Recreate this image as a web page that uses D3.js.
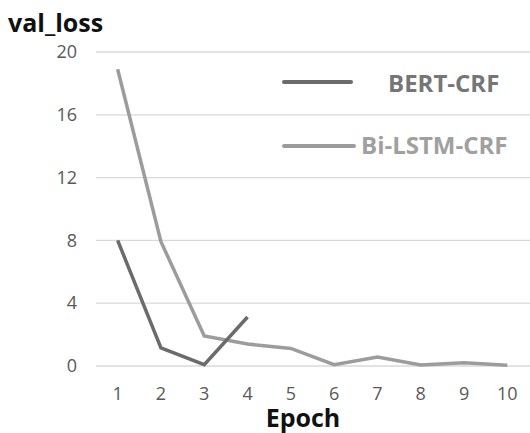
<!DOCTYPE html>
<html>
<head>
<meta charset="utf-8">
<script src="https://cdn.jsdelivr.net/npm/d3@7"></script>
<style>
    body { margin: 0; background: #fff; }
    svg { display: block; font-family: "Open Sans", "Noto Sans", sans-serif; }
</style>
</head>
<body>
<svg id="chart" width="530" height="433"></svg>
<script>
    var epochs = [1, 2, 3, 4, 5, 6, 7, 8, 9, 10];
    var bertCrf = [8.0, 1.15, 0.08, 3.12];
    var biLstmCrf = [18.9, 7.92, 1.91, 1.4, 1.12, 0.08, 0.57, 0.06, 0.2, 0.04];
    var yTicks = [0, 4, 8, 12, 16, 20];

    var series = [
        { name: 'BERT-CRF', values: bertCrf, color: '#6b6b6b', text: '#767676' },
        { name: 'Bi-LSTM-CRF', values: biLstmCrf, color: '#9c9c9c', text: '#a0a0a0' }
    ];

    var svg = d3.select('#chart');

    var x = d3.scaleBand().domain(epochs).range([96, 529]);
    var y = d3.scaleLinear().domain([0, 20]).range([366, 52]);

    // gridlines
    svg.append('g')
        .selectAll('line')
        .data(yTicks)
        .enter().append('line')
        .attr('x1', 96)
        .attr('x2', 530)
        .attr('y1', function(d) { return y(d); })
        .attr('y2', function(d) { return y(d); })
        .attr('stroke', '#d9d9d9')
        .attr('stroke-width', 1.3);

    // y axis labels
    var yAxis = svg.append('g')
        .attr('transform', 'translate(96,0)')
        .call(d3.axisLeft(y).tickValues(yTicks).tickSize(0).tickPadding(19));
    yAxis.select('.domain').remove();
    yAxis.selectAll('text')
        .attr('font-family', '"Open Sans", "Noto Sans", sans-serif')
        .attr('font-size', 18)
        .attr('fill', '#595959');

    // x axis labels
    var xAxis = svg.append('g')
        .attr('transform', 'translate(0,366)')
        .call(d3.axisBottom(x).tickSize(0).tickPadding(21));
    xAxis.select('.domain').remove();
    xAxis.selectAll('text')
        .attr('font-family', '"Open Sans", "Noto Sans", sans-serif')
        .attr('font-size', 18)
        .attr('fill', '#595959');

    var line = d3.line()
        .x(function(d, i) { return x(epochs[i]) + x.bandwidth() / 2; })
        .y(function(d) { return y(d); });

    // draw lighter series first so the darker one sits on top
    series.slice().reverse().forEach(function(s) {
        svg.append('path')
            .attr('d', line(s.values))
            .attr('fill', 'none')
            .attr('stroke', s.color)
            .attr('stroke-width', 3.5)
            .attr('stroke-linejoin', 'miter');
    });

    // legend
    var legend = [
        { s: series[0], x1: 284, x2: 351, y: 82, tx: 388, ty: 92 },
        { s: series[1], x1: 284, x2: 354, y: 146, tx: 361, ty: 154 }
    ];
    legend.forEach(function(l) {
        svg.append('line')
            .attr('x1', l.x1).attr('x2', l.x2)
            .attr('y1', l.y).attr('y2', l.y)
            .attr('stroke', l.s.color)
            .attr('stroke-width', 4)
            .attr('stroke-linecap', 'round');
        svg.append('text')
            .attr('x', l.tx)
            .attr('y', l.ty)
            .attr('font-size', 24)
            .attr('font-weight', 'bold')
            .attr('fill', l.s.text)
            .text(l.s.name);
    });

    // titles
    svg.append('text')
        .attr('x', 8)
        .attr('y', 32)
        .attr('font-size', 25)
        .attr('font-weight', 'bold')
        .attr('fill', '#111')
        .text('val_loss');

    svg.append('text')
        .attr('x', 303)
        .attr('y', 427)
        .attr('text-anchor', 'middle')
        .attr('font-size', 25)
        .attr('font-weight', 'bold')
        .attr('fill', '#111')
        .text('Epoch');
</script>
</body>
</html>
